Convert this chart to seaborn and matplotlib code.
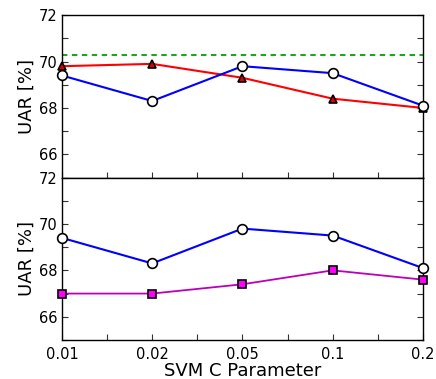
import numpy as np
import pandas as pd
import seaborn as sns
import matplotlib
import matplotlib.pyplot as plt
from matplotlib.ticker import MultipleLocator

matplotlib.use("Agg")

C_LABELS = ["0.01", "0.02", "0.05", "0.1", "0.2"]
UAR_BASE = [69.4, 68.3, 69.8, 69.5, 68.1]
UAR_TOP = [69.8, 69.9, 69.3, 68.4, 68.0]
UAR_BOTTOM = [67.0, 67.0, 67.4, 68.0, 67.6]
UAR_REF = 70.3


def init():
    sns.set_style("ticks")
    plt.rcParams["font.family"] = ["DejaVu Sans"]
    plt.rcParams["xtick.direction"] = "in"
    plt.rcParams["ytick.direction"] = "in"
    plt.rcParams["text.color"] = "black"
    plt.rcParams["axes.labelcolor"] = "black"
    plt.rcParams["xtick.labelcolor"] = "black"
    plt.rcParams["ytick.labelcolor"] = "black"


def style_axis(ax):
    ax.set_ylim(65, 72)
    ax.set_xlim(0, len(C_LABELS) - 1)
    ax.yaxis.set_major_locator(MultipleLocator(2))
    ax.yaxis.set_minor_locator(MultipleLocator(1))
    ax.xaxis.set_major_locator(MultipleLocator(1))
    ax.xaxis.set_minor_locator(MultipleLocator(0.5))
    ax.tick_params(axis="y", which="both", right=True, length=4, width=0.8,
                   labelsize=10.5, color="#333333")
    ax.tick_params(axis="x", which="both", top=False, length=4, width=0.8,
                   labelsize=10.5, color="#333333")
    ax.set_ylabel("UAR [%]", fontsize=13, labelpad=2)
    for s in ax.spines.values():
        s.set_visible(True)
        s.set_linewidth(1.0)
        s.set_color("black")


def line(ax, vals, color, marker, mfc, ms, lw):
    df = pd.DataFrame({"x": np.arange(len(vals)), "UAR": vals})
    sns.lineplot(data=df, x="x", y="UAR", ax=ax, color=color, lw=lw,
                 marker=marker, markersize=ms, markerfacecolor=mfc,
                 markeredgecolor="black", markeredgewidth=1.2, clip_on=False,
                 zorder=3)


init()
fig, (ax1, ax2) = plt.subplots(2, 1, sharex=True, figsize=(4.36, 3.79), dpi=100)
fig.subplots_adjust(left=0.142, right=0.970, top=0.960, bottom=0.103, hspace=0)

ax1.axhline(UAR_REF, color="#00a000", ls="--", lw=1.3, dashes=(3, 2.5), zorder=2)
line(ax1, UAR_TOP, "#ff0000", "^", "#dd0000", 6, 1.5)
line(ax1, UAR_BASE, "#0000ff", "o", "white", 7, 1.5)

line(ax2, UAR_BASE, "#0000ff", "o", "white", 7, 1.5)
line(ax2, UAR_BOTTOM, "#bb00bb", "s", "#ff00ff", 5.5, 1.3)

for ax in (ax1, ax2):
    style_axis(ax)
ax1.set_xlabel("")
ax2.set_xticks(range(len(C_LABELS)))
ax2.set_xticklabels(C_LABELS)
ax2.set_xlabel("SVM C Parameter", fontsize=13, labelpad=0)
ax2.tick_params(axis="x", pad=5)

fig.savefig("out.png", dpi=100)
